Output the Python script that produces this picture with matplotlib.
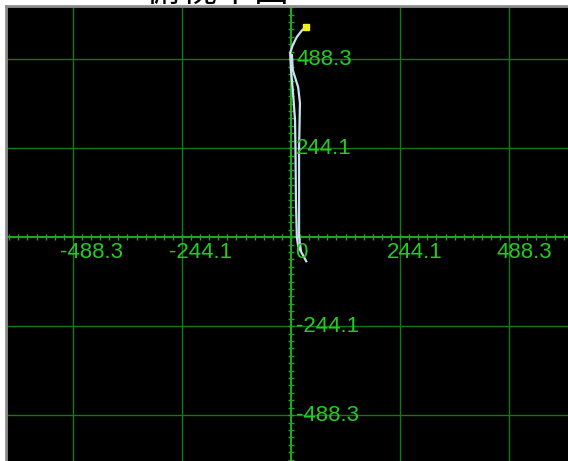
import numpy as np
import matplotlib.pyplot as plt
from matplotlib.transforms import offset_copy

# Grid / label values (display units)
tick_vals = [-488.3, -244.1, 0, 244.1, 488.3]
tick_labels = ['-488.3', '-244.1', '0', '244.1', '488.3']

# Trajectory traces
path_a_x = [34, 16, 13, 11, 10, 9, 4, 0, -2, 4, 13, 25, 34]
path_a_y = [-66, -25, 0, 102, 239, 321, 403, 458, 505, 527, 549, 568, 576]
path_b_x = [22, 18, 18, 20, 16, 4, 2]
path_b_y = [-36, 0, 239, 368, 411, 458, 499]
current_x = [34]
current_y = [576]

W, H = 568, 461
fig = plt.figure(figsize=(W / 100, H / 100), dpi=100, facecolor='white')

# Title, mostly cut off at the top edge as in the screenshot
fig.text(218 / W, 1 - 1 / H, '俯视平面', fontsize=26, ha='center', va='baseline',
         family=['Noto Sans CJK SC', 'DejaVu Sans'], color='black')

ax = fig.add_axes([6 / W, 0, (W - 6) / W, (H - 6) / H])
ax.set_facecolor('black')
ax.set_xlim(-638, 620)
ax.set_ylim(-614, 634)
ax.set_xticks([])
ax.set_yticks([])
for s in ['right', 'bottom']:
    ax.spines[s].set_visible(False)
for s in ['left', 'top']:
    ax.spines[s].set_color('#8e8e8e')
    ax.spines[s].set_linewidth(2)

grid_col = '#137a13'
for v in tick_vals:
    if v == 0:
        continue
    ax.axvline(v, color=grid_col, lw=1.0, zorder=1)
    ax.axhline(v, color=grid_col, lw=1.0, zorder=1)

# center axes with small ticks
axis_col = '#1fa51f'
ax.axvline(0, color=axis_col, lw=1.5, zorder=2)
ax.axhline(0, color=axis_col, lw=1.5, zorder=2)
step = 244.14 / 12
minor = np.arange(-32, 32) * step
ax.vlines(minor, -8, 8, color=axis_col, lw=1.0, zorder=2)
ax.hlines(minor, -7, 7, color=axis_col, lw=1.0, zorder=2)

lab_col = '#22cc22'
lab_kw = dict(fontsize=16, color=lab_col, family=['Liberation Sans', 'DejaVu Sans'], zorder=5)
for v, t in zip(tick_vals, tick_labels):
    dx = 4 if v == 0 else -13
    tr = offset_copy(ax.transData, fig=fig, x=dx * 0.72, y=-5 * 0.72, units='points')
    ax.text(v, 0, t, ha='left', va='top', transform=tr, **lab_kw)
    if v != 0:
        tr2 = offset_copy(ax.transData, fig=fig, x=5 * 0.72, y=0, units='points')
        ax.text(0, v, t, ha='left', va='center', transform=tr2, **lab_kw)

line_col = '#c9e2ef'
ax.plot(path_a_x, path_a_y, color=line_col, lw=1.6, zorder=4)
ax.plot(path_b_x, path_b_y, color=line_col, lw=1.6, zorder=4)
ax.plot(current_x, current_y, 's', color='#f2f21a', ms=4.5, zorder=6)

fig.savefig('out.png', dpi=100, facecolor='white')
